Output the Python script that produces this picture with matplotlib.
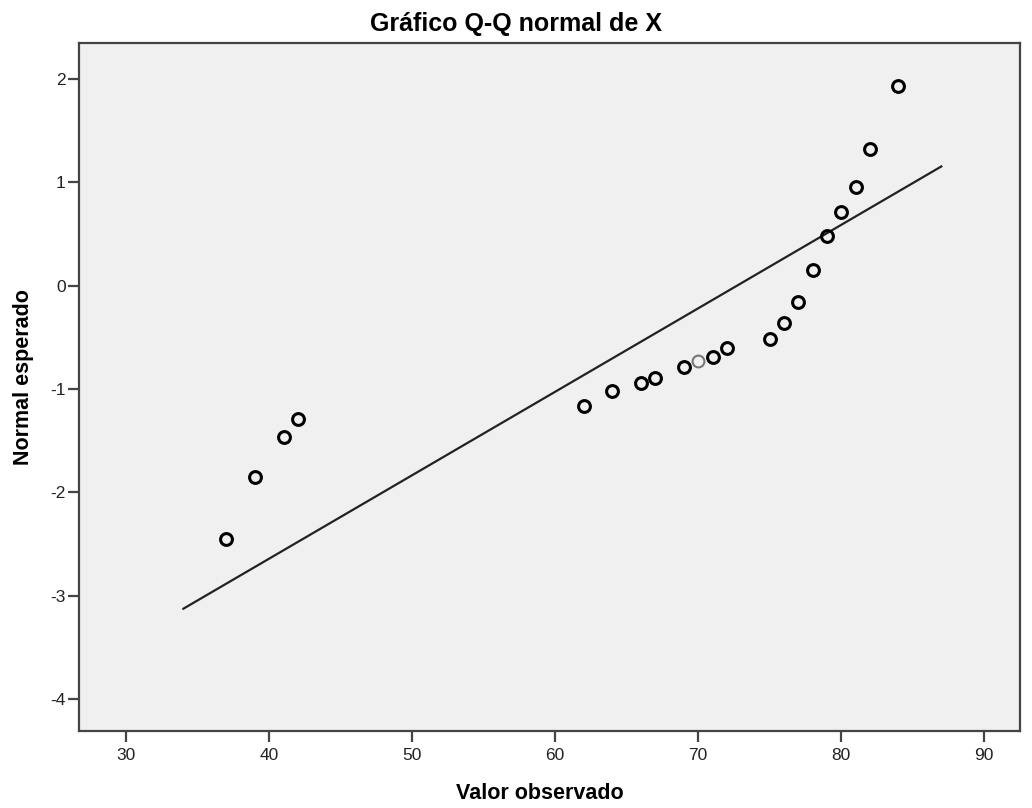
import matplotlib
matplotlib.use("Agg")
import matplotlib.pyplot as plt
import numpy as np

plt.rcParams['font.family'] = ['Liberation Sans', 'DejaVu Sans']
plt.rcParams['axes.unicode_minus'] = False

# Data
observed = [37, 39, 41, 42, 62, 64, 66, 67, 69, 70, 71, 72, 75, 76, 77, 78, 79, 80, 81, 82, 84]
expected = [-2.45, -1.85, -1.46, -1.29, -1.16, -1.02, -0.94, -0.89, -0.79, -0.73, -0.69, -0.60,
            -0.52, -0.36, -0.16, 0.15, 0.48, 0.71, 0.96, 1.32, 1.93]
gray_point = [False]*9 + [True] + [False]*11
ref_mean = 72.7
ref_sd = 12.38
line_range = [34, 87]
xticks = [30, 40, 50, 60, 70, 80, 90]
yticks = [-4, -3, -2, -1, 0, 1, 2]

fig = plt.figure(figsize=(10.32, 8.08), dpi=100)
ax = fig.add_axes([79/1032, 1 - 731/808, (1020-79)/1032, (731-43)/808])
ax.set_facecolor('#f0f0f0')

lx = np.array(line_range, dtype=float)
ly = (lx - ref_mean) / ref_sd
ax.plot(lx, ly, color='#222222', lw=1.6, zorder=2)

obs = np.array(observed)
exp_ = np.array(expected)
g = np.array(gray_point)
ax.plot(obs[~g], exp_[~g], 'o', ms=8.5, mfc='none', mec='black', mew=2.2, zorder=3)
ax.plot(obs[g], exp_[g], 'o', ms=8.5, mfc='none', mec='#777777', mew=1.5, zorder=3)

ax.set_xlim(26.7, 92.5)
ax.set_ylim(-4.31, 2.35)
ax.set_xticks(xticks)
ax.set_yticks(yticks)
ax.tick_params(direction='out', length=8, width=1.6, color='#444444',
               labelsize=12.5, labelcolor='#222222')
ax.tick_params(axis='y', pad=1.5)
ax.tick_params(axis='x', pad=4)
for s in ax.spines.values():
    s.set_color('#444444')
    s.set_linewidth(1.6)

ax.set_title('Gráfico Q-Q normal de X', fontsize=18, fontweight='bold', pad=9,
             x=(516 - 79) / 941)
ax.set_xlabel('Valor observado', fontsize=15.5, fontweight='bold', labelpad=16)
ax.xaxis.set_label_coords((540 - 79) / 941, -0.075)
ax.set_ylabel('Normal esperado', fontsize=15.5, fontweight='bold', labelpad=12)
ax.yaxis.label.set_y((731 - 377) / 688)

fig.savefig('out.png', dpi=100)
